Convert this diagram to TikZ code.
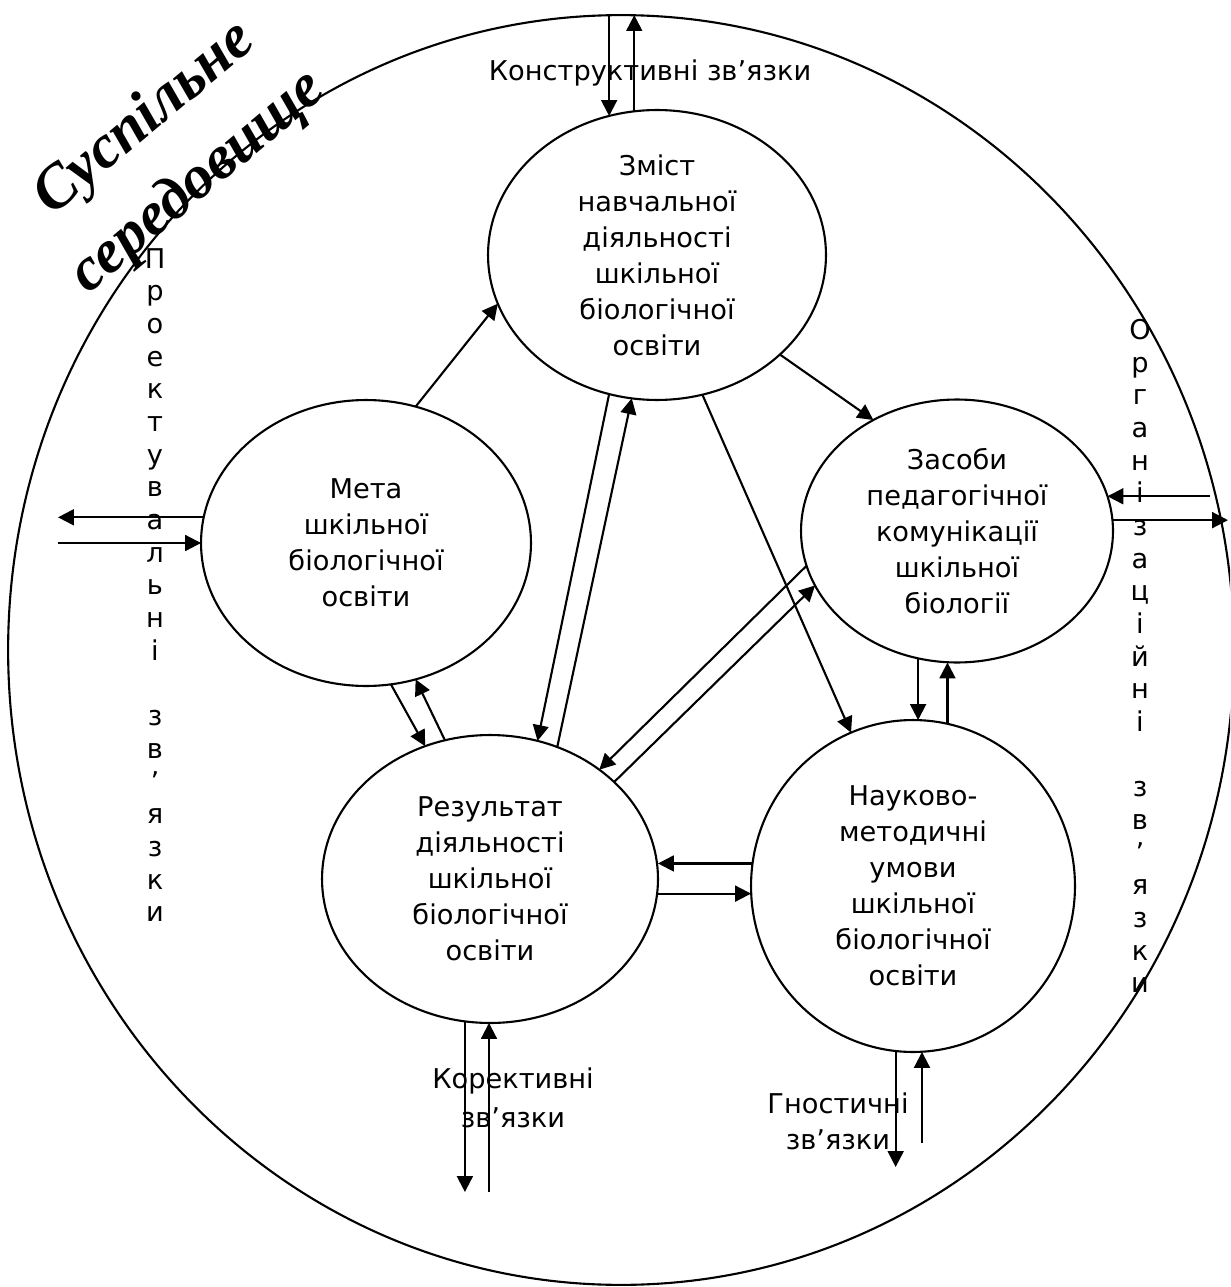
\documentclass[tikz,border=0pt]{standalone}
\usepackage{fontspec}
\setmainfont{DejaVu Sans}
\newfontfamily\titlefont{Liberation Serif}
\usetikzlibrary{arrows.meta, shapes.geometric}

\begin{document}
\begin{tikzpicture}[
  x=0.02cm, y=-0.02cm,
  font=\fontsize{15.5}{20.5}\selectfont,
  stage/.style={
    ellipse, draw, line width=1.2pt, align=center,
    inner sep=0pt, outer sep=0pt
  },
  ar/.style={-{Triangle[length=9pt,width=9pt]}, line width=1.2pt},
  lbl/.style={align=center},
  vlbl/.style={align=center, font=\fontsize{15.5}{18.6}\selectfont}
]
\useasboundingbox (0,0) rectangle (1230,1287);
\clip (0,0) rectangle (1230,1287);

% ---- the social surroundings
\node[stage, minimum width=24.52cm, minimum height=25.4cm] (env) at (621,650) {};
\node[rotate=40, align=center,
  font=\titlefont\bfseries\itshape\fontsize{35}{47}\selectfont] (title) at (172,151)
  {Суспільне\\середовище};

% ---- the five components
\node[stage, minimum width=6.76cm, minimum height=5.8cm] (zmist) at (657,255)
  {Зміст\\навчальної\\діяльності\\шкільної\\біологічної\\освіти};
\node[stage, minimum width=6.6cm, minimum height=5.72cm] (meta) at (366,543)
  {Мета\\шкільної\\біологічної\\освіти};
\node[stage, minimum width=6.24cm, minimum height=5.26cm] (zasoby) at (957,531)
  {Засоби\\педагогічної\\комунікації\\шкільної\\біології};
\node[stage, minimum width=6.72cm, minimum height=5.76cm] (rez) at (490,879)
  {Результат\\діяльності\\шкільної\\біологічної\\освіти};
\node[stage, minimum width=6.48cm, minimum height=6.64cm] (nauk) at (913,886)
  {Науково-\\методичні\\умови\\шкільної\\біологічної\\освіти};

% ---- links inside the circle
\draw[ar] (meta.70.3) -- (zmist.197.1);
\draw[ar] (zmist.321.5) -- (zasoby.127.9);
\draw[ar] (meta.280.5) -- (rez.116.9);
\draw[ar] (rez.108.4) -- (meta.290.4);
\draw[ar] (zmist.251) -- (rez.71.9);
\draw[ar] (rez.63.4) -- (zmist.260.2);
\draw[ar] (zmist.288.3) -- (nauk.112.4);
\draw[ar] (zasoby.193.4) -- (rez.45.2);
\draw[ar] (rez.38.7) -- (zasoby.201.5);
\draw[ar] (zasoby.253.9) -- (zasoby.253.9 |- nauk.north);
\draw[ar] (nauk.78.9) -- (nauk.78.9 |- zasoby.south);
\draw[ar] (nauk.172.9) -- (nauk.172.9 -| rez.east);
\draw[ar] (rez.355.9) -- (rez.355.9 -| nauk.west);

% ---- links to the surroundings
\draw[ar] (zmist.109.1 |- env.north) -- (zmist.109.1);
\draw[ar] (zmist.99.5) -- (zmist.99.5 |- env.north);
\node[lbl] (kons) at (650,73) {Конструктивні зв’язки};

\coordinate (pl1) at (58,519);
\coordinate (pl2) at (58,543);
\draw[ar] (meta.171.6) -- (meta.171.6 -| pl1);
\draw[ar] (pl2) -- (meta.west);
\node[vlbl] (proj) at (155,585)
  {П\\р\\о\\е\\к\\т\\у\\в\\а\\л\\ь\\н\\і\\\mbox{}\\з\\в\\’\\я\\з\\к\\и};

\coordinate (pr1) at (1210,495);
\coordinate (pr2) at (1228,519);
\draw[ar] (zasoby.13.5 -| pr1) -- (zasoby.13.5);
\draw[ar] (zasoby.4.4) -- (zasoby.4.4 -| pr2);
\node[vlbl] (org) at (1140,656)
  {О\\р\\г\\а\\н\\і\\з\\а\\ц\\і\\й\\н\\і\\\mbox{}\\з\\в\\’\\я\\з\\к\\и};

\coordinate (pk1) at (466,1192);
\coordinate (pk2) at (489,1192);
\draw[ar] (rez.260.4) -- (rez.260.4 |- pk1);
\draw[ar] (pk2) -- (pk2 |- rez.south);
\node[lbl] (kor) at (513,1098) {Корективні\\[2pt]зв’язки};

\coordinate (pg1) at (897,1167);
\coordinate (pg2) at (922,1143);
\draw[ar] (nauk.264.5) -- (nauk.264.5 |- pg1);
\draw[ar] (pg2) -- (pg2 |- nauk.south);
\node[lbl] (gnos) at (838,1121) {Гностичні\\зв’язки};

\end{tikzpicture}
\end{document}
